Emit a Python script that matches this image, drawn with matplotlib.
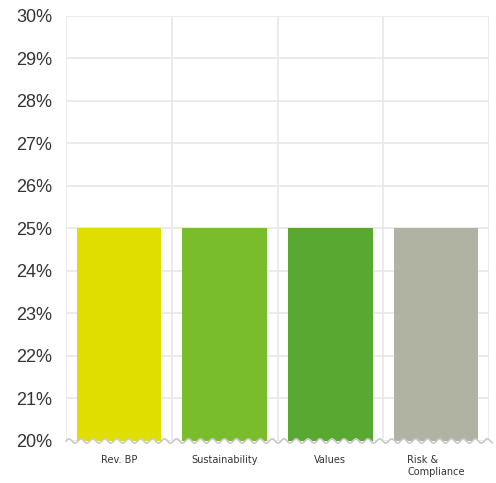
import numpy as np
import matplotlib.pyplot as plt

categories = ["Rev. BP", "Sustainability", "Values", "Risk &\nCompliance"]
values = [25, 25, 25, 25]
colors = ["#e0dd00", "#7abd2c", "#58a832", "#b0b2a2"]
y_ticks = list(range(20, 31))

fig = plt.figure(figsize=(4.96, 4.83), dpi=100)
ax = fig.add_axes([0.133, 0.087, 0.853, 0.880])

x = np.arange(len(categories))
ax.bar(x, values, width=0.8, color=colors, zorder=2)

ax.set_xlim(-0.5, len(categories) - 0.5)
ax.set_ylim(20, 30)

# grid: horizontal at each percent, vertical at category borders
ax.set_yticks(y_ticks)
ax.set_yticklabels([f"{t}%" for t in y_ticks], fontsize=13,
                   family="Liberation Sans", color="#333333")
ax.set_xticks(x)
ax.set_xticklabels(categories, fontsize=7, family="DejaVu Sans", color="#333333",
                   multialignment="left", linespacing=1.3)
ax.set_xticks(np.arange(-0.5, len(categories)), minor=True)
ax.tick_params(axis="both", which="both", length=0)
ax.tick_params(axis="y", pad=10)
ax.tick_params(axis="x", pad=10)
ax.grid(axis="y", color="#e8e8e8", linewidth=1.2, zorder=0)
ax.grid(axis="x", which="minor", color="#e8e8e8", linewidth=1.2, zorder=0)
ax.grid(axis="x", which="major", visible=False)
for s in ax.spines.values():
    s.set_visible(False)

# wavy axis-break line at the bottom
wx = np.linspace(-0.5, 3.53, 800)
wy = 20 + 0.05 * np.sin(2 * np.pi * (wx + 0.5) / 0.113)
ax.fill_between(wx, wy, 19.85, color="white", zorder=3, clip_on=False)
ax.plot(wx, wy, color="#c8c8c8", linewidth=1.2, zorder=4, clip_on=False)

fig.savefig("out.png", dpi=100)
